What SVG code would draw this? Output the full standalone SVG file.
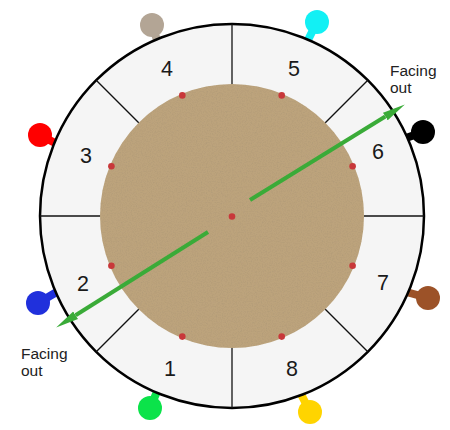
<svg xmlns="http://www.w3.org/2000/svg" width="450" height="430" viewBox="0 0 450 430">
  <style>
    .num { font-family: "Liberation Sans", Arial, sans-serif; font-size: 21.5px; fill: #1a1a1a; text-anchor: middle; }
    .lbl { font-family: "Liberation Sans", Arial, sans-serif; font-size: 15.5px; fill: #222; }
    .div { stroke: #111; stroke-width: 1.3; }
    .dot { fill: #c8383a; }
    .stem { stroke-width: 8; stroke-linecap: round; }
    .arrow { stroke: #3aab38; stroke-width: 4; fill: none; }
  </style>
  <defs>
    <filter id="grain" x="0" y="0" width="100%" height="100%">
      <feTurbulence type="fractalNoise" baseFrequency="0.8" numOctaves="2" seed="3" result="n"/>
      <feColorMatrix in="n" type="matrix" values="0 0 0 0 0.35  0 0 0 0 0.28  0 0 0 0 0.18  0 0 0 -0.8 0.45" result="g"/>
      <feComposite in="g" in2="SourceGraphic" operator="in" result="gc"/>
      <feMerge><feMergeNode in="SourceGraphic"/><feMergeNode in="gc"/></feMerge>
    </filter>
    <marker id="ah" markerUnits="userSpaceOnUse" markerWidth="23" markerHeight="10" refX="0" refY="5" orient="auto" viewBox="0 0 23 10">
      <path d="M0,0.5 L23,5 L0,9.5 z" fill="#3aab38"/>
    </marker>
  </defs>
  <rect width="450" height="430" fill="#fff"/>

  <g id="pins">
    <g id="pin-4"><line class="stem" x1="152" y1="25" x2="157" y2="40" stroke="#b3a595"/><circle cx="152" cy="25" r="12" fill="#b3a595"/></g>
    <g id="pin-5"><line class="stem" x1="317" y1="22" x2="308" y2="40" stroke="#12f0f4"/><circle cx="317" cy="22" r="12" fill="#12f0f4"/></g>
    <g id="pin-6"><line class="stem" x1="423" y1="132" x2="406" y2="138" stroke="#000"/><circle cx="423" cy="132" r="12" fill="#000"/></g>
    <g id="pin-7"><line class="stem" x1="428" y1="298" x2="410" y2="293" stroke="#9c5228"/><circle cx="428" cy="298" r="12" fill="#9c5228"/></g>
    <g id="pin-8"><line class="stem" x1="310" y1="412" x2="302" y2="396" stroke="#ffd400"/><circle cx="310" cy="412" r="12" fill="#ffd400"/></g>
    <g id="pin-1"><line class="stem" x1="150" y1="408" x2="156" y2="394" stroke="#0be34a"/><circle cx="150" cy="408" r="12" fill="#0be34a"/></g>
    <g id="pin-2"><line class="stem" x1="38" y1="303" x2="55" y2="293" stroke="#2030dc"/><circle cx="38" cy="303" r="12" fill="#2030dc"/></g>
    <g id="pin-3"><line class="stem" x1="40" y1="135" x2="55" y2="143" stroke="#ff0000"/><circle cx="40" cy="135" r="12" fill="#ff0000"/></g>
  </g>

  <g id="ring">
    <circle cx="232" cy="216" r="192" fill="#f5f5f5" stroke="#000" stroke-width="2.5"/>
    <circle cx="232" cy="216" r="132" fill="#bca37c" filter="url(#grain)"/>
    <line class="div" x1="232" y1="84" x2="232" y2="24"/>
    <line class="div" x1="232" y1="348" x2="232" y2="408"/>
    <line class="div" x1="100" y1="216" x2="40" y2="216"/>
    <line class="div" x1="364" y1="216" x2="424" y2="216"/>
    <line class="div" x1="138.7" y1="122.7" x2="96.2" y2="80.2"/>
    <line class="div" x1="325.3" y1="122.7" x2="367.8" y2="80.2"/>
    <line class="div" x1="138.7" y1="309.3" x2="96.2" y2="351.8"/>
    <line class="div" x1="325.3" y1="309.3" x2="367.8" y2="351.8"/>
  </g>

  <g id="dots">
    <circle class="dot" cx="182.3" cy="95.4" r="3.3"/>
    <circle class="dot" cx="281.7" cy="95.4" r="3.3"/>
    <circle class="dot" cx="352.6" cy="166.3" r="3.3"/>
    <circle class="dot" cx="352.6" cy="265.7" r="3.3"/>
    <circle class="dot" cx="281.7" cy="336.6" r="3.3"/>
    <circle class="dot" cx="182.3" cy="336.6" r="3.3"/>
    <circle class="dot" cx="111.4" cy="265.7" r="3.3"/>
    <circle class="dot" cx="111.4" cy="166.3" r="3.3"/>
    <circle class="dot" cx="232" cy="216.5" r="3.3"/>
  </g>

  <g id="sectors">
    <text id="s1" class="num" x="170" y="376">1</text>
    <text id="s2" class="num" x="83" y="291">2</text>
    <text id="s3" class="num" x="86" y="163">3</text>
    <text id="s4" class="num" x="167" y="76">4</text>
    <text id="s5" class="num" x="294" y="76">5</text>
    <text id="s6" class="num" x="378" y="159">6</text>
    <text id="s7" class="num" x="383" y="290">7</text>
    <text id="s8" class="num" x="292" y="376">8</text>
  </g>

  <g id="connectors">
    <line class="arrow" x1="250" y1="200" x2="385.3" y2="116.5" marker-end="url(#ah)"/>
    <line class="arrow" x1="208" y1="232" x2="75.6" y2="315.3" marker-end="url(#ah)"/>
  </g>

  <g id="labels">
    <text class="lbl" x="390" y="76">Facing</text>
    <text class="lbl" x="390" y="93">out</text>
    <text class="lbl" x="21" y="359">Facing</text>
    <text class="lbl" x="21" y="376">out</text>
  </g>
</svg>
